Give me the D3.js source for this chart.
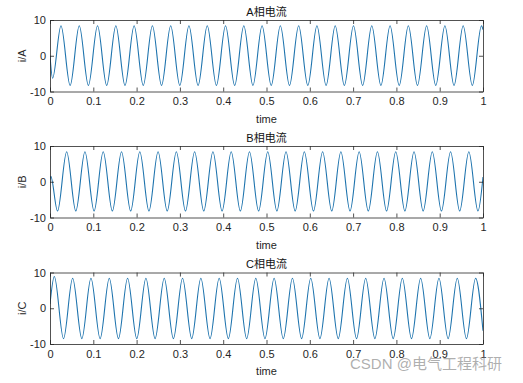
<!DOCTYPE html>
<html>
<head>
<meta charset="utf-8">
<script src="https://cdn.jsdelivr.net/npm/d3@7"></script>
<style>
  html, body { margin: 0; padding: 0; background: #fff; }
  text { font-family: "Liberation Sans", Arial, "Noto Sans CJK SC", sans-serif; }
</style>
</head>
<body>
<script>
// values: extrema of each phase current (time in s, current)
var timeA = [0, 0.006, 0.0254, 0.0465, 0.0676, 0.0887, 0.1098, 0.1309, 0.1521, 0.1732, 0.1943, 0.2154,
  0.2365, 0.2576, 0.2787, 0.2998, 0.3209, 0.3420, 0.3632, 0.3843, 0.4054, 0.4265, 0.4476, 0.4687,
  0.4898, 0.5109, 0.5320, 0.5531, 0.5743, 0.5954, 0.6165, 0.6376, 0.6587, 0.6798, 0.7009, 0.7220,
  0.7431, 0.7642, 0.7854, 0.8065, 0.8276, 0.8487, 0.8698, 0.8909, 0.9120, 0.9331, 0.9542, 0.9753,
  0.9965, 1];
var currentA = [0, -6.3, 8.4, -8.3, 8.4, -8.3, 8.4, -8.3, 8.4, -8.3, 8.4, -8.3,
  8.4, -8.3, 8.4, -8.3, 8.4, -8.3, 8.4, -8.3, 8.4, -8.3, 8.4, -8.3,
  8.4, -8.3, 8.4, -8.3, 8.4, -8.3, 8.4, -8.3, 8.4, -8.3, 8.4, -8.3,
  8.4, -8.3, 8.4, -8.3, 8.4, -8.3, 8.4, -8.3, 8.4, -8.3, 8.4, -8.3,
  8.4, 7.3];

var timeB = [0, 0.0018, 0.0174, 0.0385, 0.0596, 0.0807, 0.1018, 0.1229, 0.1440, 0.1652, 0.1863, 0.2074,
  0.2285, 0.2496, 0.2707, 0.2918, 0.3129, 0.3340, 0.3551, 0.3763, 0.3974, 0.4185, 0.4396, 0.4607,
  0.4818, 0.5029, 0.5240, 0.5451, 0.5662, 0.5874, 0.6085, 0.6296, 0.6507, 0.6718, 0.6929, 0.7140,
  0.7351, 0.7562, 0.7773, 0.7985, 0.8196, 0.8407, 0.8618, 0.8829, 0.9040, 0.9251, 0.9462, 0.9673,
  0.9884, 1];
var currentB = [0.6, 1.5, -8.2, 8.4, -8.2, 8.4, -8.2, 8.4, -8.2, 8.4, -8.2, 8.4,
  -8.2, 8.4, -8.2, 8.4, -8.2, 8.4, -8.2, 8.4, -8.2, 8.4, -8.2, 8.4,
  -8.2, 8.4, -8.2, 8.4, -8.2, 8.4, -8.2, 8.4, -8.2, 8.4, -8.2, 8.4,
  -8.2, 8.4, -8.2, 8.4, -8.2, 8.4, -8.2, 8.4, -8.2, 8.4, -8.2, 8.4,
  -8.2, 1.3];

var timeC = [0, 0.0100, 0.0312, 0.0523, 0.0735, 0.0946, 0.1158, 0.1369, 0.1581, 0.1792, 0.2004, 0.2215,
  0.2427, 0.2638, 0.2850, 0.3061, 0.3273, 0.3484, 0.3696, 0.3907, 0.4119, 0.4330, 0.4542, 0.4753,
  0.4965, 0.5176, 0.5388, 0.5599, 0.5811, 0.6022, 0.6234, 0.6445, 0.6657, 0.6868, 0.7080, 0.7291,
  0.7503, 0.7714, 0.7926, 0.8137, 0.8349, 0.8560, 0.8772, 0.8983, 0.9195, 0.9406, 0.9618, 0.9829, 1];
var currentC = [1.2, 8.9, -8.5, 8.4, -8.5, 8.4, -8.5, 8.4, -8.5, 8.4, -8.5, 8.4,
  -8.5, 8.4, -8.5, 8.4, -8.5, 8.4, -8.5, 8.4, -8.5, 8.4, -8.5, 8.4,
  -8.5, 8.4, -8.5, 8.4, -8.5, 8.4, -8.5, 8.4, -8.5, 8.4, -8.5, 8.4,
  -8.5, 8.4, -8.5, 8.4, -8.5, 8.4, -8.5, 8.4, -8.5, 8.4, -8.5, 8.4, -6.3];

var titles = ["A相电流", "B相电流", "C相电流"];
var yLabels = ["i/A", "i/B", "i/C"];
var xLabel = "time";
var xTicks = [0, 0.1, 0.2, 0.3, 0.4, 0.5, 0.6, 0.7, 0.8, 0.9, 1];
var xTickLabels = ["0", "0.1", "0.2", "0.3", "0.4", "0.5", "0.6", "0.7", "0.8", "0.9", "1"];
var yTicks = [-10, 0, 10];
var yTickLabels = ["-10", "0", "10"];

var width = 523, height = 383;
var left = 50, right = 483;
var panelTops = [20, 146, 272.5];
var panelH = 71.5;
var ink = "#262626";
var lineColor = "#1f74ae";

var series = [
  { t: timeA, v: currentA },
  { t: timeB, v: currentB },
  { t: timeC, v: currentC }
];

var svg = d3.select("body").append("svg")
  .attr("width", width)
  .attr("height", height)
  .style("display", "block");

svg.append("rect").attr("width", width).attr("height", height).attr("fill", "#fff");

var x = d3.scaleLinear().domain([0, 1]).range([left, right]);

series.forEach(function (s, i) {
  var top = panelTops[i];
  var y = d3.scaleLinear().domain([-10, 10]).range([top + panelH, top]);
  var g = svg.append("g");

  g.append("clipPath").attr("id", "clip" + i)
    .append("rect")
    .attr("x", left).attr("y", top)
    .attr("width", right - left).attr("height", panelH);

  var pts = s.t.map(function (t, k) { return [t, s.v[k]]; });
  var line = d3.line()
    .x(function (d) { return x(d[0]); })
    .y(function (d) { return y(d[1]); })
    .curve(d3.curveMonotoneX);

  g.append("path")
    .datum(pts)
    .attr("clip-path", "url(#clip" + i + ")")
    .attr("fill", "none")
    .attr("stroke", lineColor)
    .attr("stroke-width", 1.1)
    .attr("d", line);

  // axes, ticks pointing inwards like matlab
  var bottom = g.append("g")
    .attr("transform", "translate(0," + (top + panelH) + ")")
    .call(d3.axisBottom(x).tickValues(xTicks)
      .tickFormat(function (d, k) { return xTickLabels[k]; })
      .tickSize(-4).tickSizeOuter(0).tickPadding(6));
  var topAx = g.append("g")
    .attr("transform", "translate(0," + top + ")")
    .call(d3.axisTop(x).tickValues(xTicks).tickFormat("")
      .tickSize(-4).tickSizeOuter(0));
  var leftAx = g.append("g")
    .attr("transform", "translate(" + left + ",0)")
    .call(d3.axisLeft(y).tickValues(yTicks)
      .tickFormat(function (d, k) { return yTickLabels[k]; })
      .tickSize(-4).tickSizeOuter(0).tickPadding(4));
  var rightAx = g.append("g")
    .attr("transform", "translate(" + right + ",0)")
    .call(d3.axisRight(y).tickValues(yTicks).tickFormat("")
      .tickSize(-4).tickSizeOuter(0));

  [bottom, topAx, leftAx, rightAx].forEach(function (a) {
    a.selectAll("path, line").attr("stroke", ink).attr("stroke-width", 0.8);
    a.selectAll("text").attr("fill", ink).style("font-size", "11px")
      .style("font-family", "'Liberation Sans', Arial, sans-serif");
  });

  g.append("text")
    .attr("x", (left + right) / 2)
    .attr("y", top - 4.5)
    .attr("text-anchor", "middle")
    .attr("fill", "#111")
    .style("font-size", "11px")
    .text(titles[i]);

  g.append("text")
    .attr("x", (left + right) / 2)
    .attr("y", top + panelH + 31)
    .attr("text-anchor", "middle")
    .attr("fill", ink)
    .style("font-size", "11px")
    .text(xLabel);

  g.append("text")
    .attr("transform", "translate(25.5," + (top + panelH / 2) + ") rotate(-90)")
    .attr("text-anchor", "middle")
    .attr("fill", ink)
    .style("font-size", "11px")
    .text(yLabels[i]);
});

// watermark, it sits over the last tick labels in the source as well
svg.append("text")
  .attr("x", 350).attr("y", 369)
  .attr("fill", "#8c8c8c").attr("fill-opacity", 0.7)
  .style("font-size", "15px")
  .text("CSDN @电气工程科研");
</script>
</body>
</html>
